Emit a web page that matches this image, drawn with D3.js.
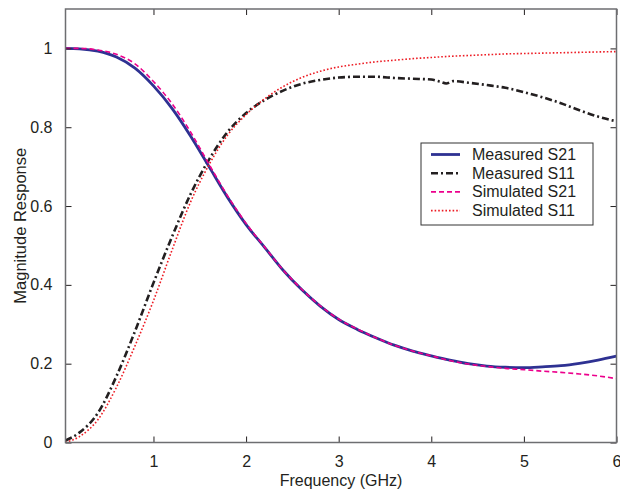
<!DOCTYPE html>
<html>
<head>
<meta charset="utf-8">
<script src="https://cdn.jsdelivr.net/npm/d3@7"></script>
<style>
  html, body { margin: 0; padding: 0; background: #fff; }
  svg { display: block; font-family: "Liberation Sans", Arial, Helvetica, sans-serif; }
</style>
</head>
<body>
<svg id="chart" width="620" height="493"></svg>
<script>
// Frequency grid (GHz) shared by the S21 curves and simulated S11
const freqGHz = [0.05, 0.2, 0.4, 0.6, 0.8, 1.0, 1.2, 1.4, 1.6, 1.8, 2.0, 2.2, 2.4, 2.6, 2.8, 3.0,
                 3.2, 3.4, 3.6, 3.8, 4.0, 4.2, 4.4, 4.6, 4.8, 5.0, 5.2, 5.4, 5.6, 5.8, 6.0];

const measuredS21 = [1.000, 0.999, 0.993, 0.978, 0.950, 0.905, 0.848, 0.778, 0.700, 0.622, 0.553,
                     0.495, 0.437, 0.388, 0.346, 0.312, 0.287, 0.266, 0.247, 0.232, 0.220, 0.209,
                     0.200, 0.194, 0.191, 0.190, 0.192, 0.195, 0.201, 0.209, 0.219];

const simulatedS21 = [1.000, 1.000, 0.996, 0.985, 0.961, 0.916, 0.860, 0.788, 0.706, 0.626, 0.556,
                      0.496, 0.438, 0.389, 0.347, 0.313, 0.288, 0.266, 0.247, 0.232, 0.220, 0.208,
                      0.199, 0.193, 0.188, 0.185, 0.181, 0.178, 0.174, 0.169, 0.162];

const simulatedS11 = [0.000, 0.015, 0.058, 0.140, 0.245, 0.360, 0.488, 0.610, 0.705, 0.780, 0.832,
                      0.872, 0.903, 0.926, 0.942, 0.953, 0.960, 0.966, 0.970, 0.974, 0.977, 0.980,
                      0.982, 0.984, 0.986, 0.987, 0.988, 0.989, 0.990, 0.991, 0.992];

// Measured S11 has its own sampling (small dip near 4.1 GHz)
const freqS11Meas = [0.05, 0.2, 0.4, 0.6, 0.8, 1.0, 1.2, 1.4, 1.6, 1.8, 2.0, 2.2, 2.4, 2.6, 2.8, 3.0,
                     3.2, 3.4, 3.6, 3.8, 4.0, 4.1, 4.16, 4.24, 4.4, 4.6, 4.8, 5.0, 5.2, 5.4, 5.6, 5.8, 6.0];
const measuredS11 = [0.005, 0.025, 0.075, 0.168, 0.282, 0.405, 0.522, 0.630, 0.718, 0.788, 0.836,
                     0.869, 0.893, 0.910, 0.920, 0.926, 0.928, 0.928, 0.925, 0.923, 0.921, 0.915,
                     0.911, 0.917, 0.913, 0.907, 0.900, 0.889, 0.876, 0.861, 0.843, 0.827, 0.815];

const xTicks = [1, 2, 3, 4, 5, 6];
const yTicks = [0, 0.2, 0.4, 0.6, 0.8, 1];
const xLabel = "Frequency (GHz)";
const yLabel = "Magnitude Response";

const series = [
  { name: "Measured S21",  x: freqGHz,     y: measuredS21,  color: "#2e3192", width: 2.8, dash: null },
  { name: "Measured S11",  x: freqS11Meas, y: measuredS11,  color: "#231f20", width: 2.6, dash: "7,3,2,3" },
  { name: "Simulated S21", x: freqGHz,     y: simulatedS21, color: "#ec008c", width: 1.6, dash: "5,3" },
  { name: "Simulated S11", x: freqGHz,     y: simulatedS11, color: "#ed1c24", width: 1.6, dash: "1.6,2" }
];

const svg = d3.select("#chart");
const plotLeft = 65.5, plotRight = 616.5, plotTop = 9, plotBottom = 442.5;

const x = d3.scaleLinear().domain([0.05, 6]).range([plotLeft, plotRight]);
const y = d3.scaleLinear().domain([0, 1.1]).range([plotBottom, plotTop]);

const textColor = "#231f20";
const boxColor = "#6d6e71";

// Curves (drawn first so the frame sits on top)
const line = d3.line().curve(d3.curveMonotoneX);
svg.append("clipPath").attr("id", "plotclip")
  .append("rect").attr("x", plotLeft).attr("y", plotTop)
  .attr("width", plotRight - plotLeft).attr("height", plotBottom - plotTop);

const plot = svg.append("g").attr("clip-path", "url(#plotclip)");
// Measured curves underneath, simulated curves on top
[series[1], series[0], series[3], series[2]].forEach(s => {
  const pts = s.x.map((f, i) => [x(f), y(s.y[i])]);
  plot.append("path")
    .attr("d", line(pts))
    .attr("fill", "none")
    .attr("stroke", s.color)
    .attr("stroke-width", s.width)
    .attr("stroke-dasharray", s.dash)
    .attr("stroke-linejoin", "round");
});

// Axes with inward ticks on all four sides
function styleAxis(g) {
  g.select(".domain").remove();
  g.selectAll(".tick line").attr("stroke", textColor).attr("stroke-width", 1);
  g.selectAll(".tick text").attr("fill", textColor).attr("font-size", 16)
    .attr("font-family", "Liberation Sans, Arial, sans-serif");
}

svg.append("g").attr("transform", `translate(0,${plotBottom})`)
  .call(d3.axisBottom(x).tickValues(xTicks).tickFormat(d3.format("d")).tickSizeInner(-6).tickPadding(13))
  .call(styleAxis);
svg.append("g").attr("transform", `translate(0,${plotTop})`)
  .call(d3.axisTop(x).tickValues(xTicks).tickFormat("").tickSizeInner(-6))
  .call(styleAxis);
svg.append("g").attr("transform", `translate(${plotLeft},0)`)
  .call(d3.axisLeft(y).tickValues(yTicks).tickFormat(d3.format("~g")).tickSizeInner(-6).tickPadding(13))
  .call(styleAxis);
svg.append("g").attr("transform", `translate(${plotRight},0)`)
  .call(d3.axisRight(y).tickValues(yTicks).tickFormat("").tickSizeInner(-6))
  .call(styleAxis);

// Plot frame
svg.append("rect")
  .attr("x", plotLeft).attr("y", plotTop)
  .attr("width", plotRight - plotLeft).attr("height", plotBottom - plotTop)
  .attr("fill", "none").attr("stroke", boxColor).attr("stroke-width", 1.5);

// Axis titles
svg.append("text")
  .attr("x", (plotLeft + plotRight) / 2).attr("y", 486)
  .attr("text-anchor", "middle").attr("font-size", 16).attr("fill", textColor)
  .text(xLabel);
svg.append("text")
  .attr("transform", `translate(26,${(plotTop + plotBottom) / 2}) rotate(-90)`)
  .attr("text-anchor", "middle").attr("font-size", 16.5).attr("fill", textColor)
  .text(yLabel);

// Legend
const legend = svg.append("g").attr("transform", "translate(421,143)");
legend.append("rect")
  .attr("width", 172).attr("height", 82)
  .attr("fill", "#fff").attr("stroke", "#333").attr("stroke-width", 1);
series.forEach((s, i) => {
  const cy = 11.5 + i * 18.7;
  legend.append("line")
    .attr("x1", 10).attr("x2", 39).attr("y1", cy).attr("y2", cy)
    .attr("stroke", s.color).attr("stroke-width", s.width)
    .attr("stroke-dasharray", s.dash);
  legend.append("text")
    .attr("x", 51).attr("y", cy + 5.5)
    .attr("font-size", 16).attr("fill", textColor)
    .text(s.name);
});
</script>
</body>
</html>
